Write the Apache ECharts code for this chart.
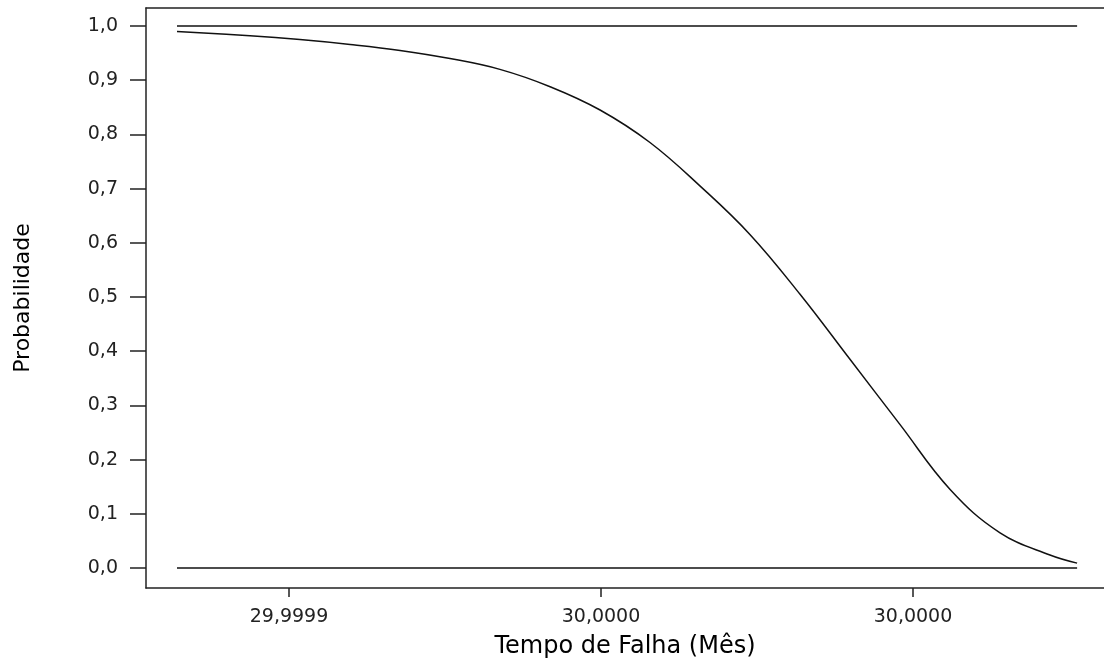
<!DOCTYPE html>
<html lang="pt">

<head>
    <meta charset="UTF-8">
    <script src="https://cdn.jsdelivr.net/npm/echarts@6/dist/echarts.min.js"></script>
    <title>Probabilidade x Tempo de Falha</title>
    <style>
        html, body { margin: 0; padding: 0; background: #fff; }
        #main { width: 1104px; height: 665px; }
    </style>
</head>

<body>
    <div id="main"></div>

    <script type="text/javascript">
        // eixo x em unidades de marca (0, 1, 2 = posicoes dos rotulos)
        var xTicks = [0, 1, 2];
        var xTickLabels = ['29,9999', '30,0000', '30,0000'];
        var yTicks = [0, 0.1, 0.2, 0.3, 0.4, 0.5, 0.6, 0.7, 0.8, 0.9, 1.0];
        var yTickLabels = ['0,0', '0,1', '0,2', '0,3', '0,4', '0,5', '0,6', '0,7', '0,8', '0,9', '1,0'];

        // curva de probabilidade
        var tempo = [-0.359, -0.125, 0.035, 0.196, 0.356, 0.516, 0.676, 0.837, 0.997, 1.157,
            1.317, 1.478, 1.638, 1.798, 1.958, 2.119, 2.279, 2.439, 2.526];
        var prob = [0.990, 0.982, 0.975, 0.966, 0.955, 0.940, 0.920, 0.888, 0.845, 0.785,
            0.705, 0.615, 0.505, 0.385, 0.265, 0.145, 0.065, 0.024, 0.009];

        // limites (linhas horizontais)
        var limSup = [1, 1];
        var limInf = [0, 0];
        var limX = [-0.359, 2.526];

        var myChart = echarts.init(document.getElementById('main'));

        var font = 'DejaVu Sans';
        var xMin = -0.4583, xMax = 2.6122;

        var option = {
            animation: false,
            backgroundColor: '#fff',
            grid: { left: 146, top: 8, right: 0, bottom: 77, containLabel: false },
            xAxis: [{
                type: 'value',
                min: xMin,
                max: xMax,
                name: 'Tempo de Falha (Mês)',
                nameLocation: 'middle',
                nameGap: 47,
                nameTextStyle: { fontFamily: font, fontSize: 24, color: '#000' },
                axisLine: { show: true, onZero: false, lineStyle: { color: '#222', width: 1.5 } },
                axisTick: { show: true, customValues: xTicks, length: 9, lineStyle: { color: '#222', width: 1.5 } },
                axisLabel: {
                    customValues: xTicks,
                    margin: 20,
                    fontFamily: font, fontSize: 19, color: '#222',
                    formatter: function (v) {
                        return xTickLabels[xTicks.indexOf(v)];
                    }
                },
                splitLine: { show: false }
            }, {
                type: 'value',
                position: 'top',
                min: xMin,
                max: xMax,
                axisLine: { show: true, onZero: false, lineStyle: { color: '#222', width: 1.5 } },
                axisTick: { show: false },
                axisLabel: { show: false },
                splitLine: { show: false }
            }],
            yAxis: {
                type: 'value',
                min: -0.0369,
                max: 1.0332,
                name: 'Probabilidade',
                nameLocation: 'middle',
                nameGap: 112,
                nameRotate: 90,
                nameTextStyle: { fontFamily: font, fontSize: 22, color: '#000' },
                axisLine: { show: true, onZero: false, lineStyle: { color: '#222', width: 1.5 } },
                axisTick: { show: true, customValues: yTicks, length: 16, lineStyle: { color: '#222', width: 1.5 } },
                axisLabel: {
                    customValues: yTicks,
                    margin: 28,
                    fontFamily: font, fontSize: 19, color: '#222',
                    formatter: function (v) {
                        return yTickLabels[yTicks.indexOf(v)];
                    }
                },
                splitLine: { show: false }
            },
            series: [{
                name: 'Probabilidade',
                type: 'line',
                data: tempo.map(function (t, i) { return [t, prob[i]]; }),
                showSymbol: false,
                smooth: 0.4,
                lineStyle: { color: '#111', width: 1.5 }
            }, {
                name: 'Limite superior',
                type: 'line',
                data: limX.map(function (t, i) { return [t, limSup[i]]; }),
                showSymbol: false,
                lineStyle: { color: '#111', width: 1.5 }
            }, {
                name: 'Limite inferior',
                type: 'line',
                data: limX.map(function (t, i) { return [t, limInf[i]]; }),
                showSymbol: false,
                lineStyle: { color: '#111', width: 1.5 }
            }]
        };

        myChart.setOption(option);
    </script>

</body>

</html>
